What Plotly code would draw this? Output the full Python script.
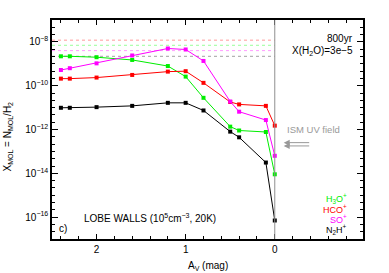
import plotly.graph_objects as go

# ---- data ----
av = [2.4, 2.3, 2.0, 1.6, 1.2, 1.0, 0.8, 0.5, 0.4, 0.1, 0.0]
h3o = [2.2e-9, 2.2e-9, 2.0e-9, 1.5e-9, 7.9e-10, 2.6e-10, 2.8e-11, 1.35e-12, 9e-13, 7.7e-13, 9e-15]
hco = [2.1e-10, 2.1e-10, 2.35e-10, 3.1e-10, 4.4e-10, 4.6e-10, 1.35e-10, 1.8e-11, 1.4e-11, 1.2e-11, 1.5e-12]
so = [5.2e-10, 6.3e-10, 1.05e-9, 2.4e-9, 5.0e-9, 4.5e-9, 1.35e-9, 1.9e-11, 6.5e-12, 2.7e-12, 6.3e-14]
n2h = [9.8e-12, 9.8e-12, 1.05e-11, 1.2e-11, 1.65e-11, 1.65e-11, 7.4e-12, 8e-13, 4.4e-13, 3.1e-14, 7e-17]

# reference (dotted) levels
ref_names = ["HCO+ ref", "H3O+ ref", "SO+ ref", "N2H+ ref"]
ref_levels = [1.2e-8, 7e-9, 4e-9, 2.2e-9]
ref_colors = ["#ff9a9a", "#9aff9a", "#ff9aff", "#a0a0a0"]

series_names = ["H3O+", "HCO+", "SO+", "N2H+"]
series_colors = ["#00ee00", "#ff0000", "#ff00ff", "#000000"]
series_vals = [h3o, hco, so, n2h]

x_range = [2.5, -0.99]
y_range = [-17, -7]
xtick_vals = [2, 1, 0]
ytick_exps = [-16, -14, -12, -10, -8]

FONT = "Liberation Sans, Arial, Helvetica, sans-serif"

fig = go.Figure()

for name, lvl, col in zip(ref_names, ref_levels, ref_colors):
    fig.add_trace(go.Scatter(x=[x_range[0], 0], y=[lvl, lvl], mode="lines",
                             line=dict(color=col, width=1, dash="dot"),
                             showlegend=False, hoverinfo="skip"))

# vertical line at Av = 0
fig.add_shape(type="line", xref="x", yref="paper", x0=0, x1=0, y0=0, y1=1,
              line=dict(color="#909090", width=1))

for name, vals, col in zip(series_names, series_vals, series_colors):
    fig.add_trace(go.Scatter(x=av, y=vals, mode="lines+markers", name=name,
                             line=dict(color=col, width=1),
                             marker=dict(symbol="square", size=4, color=col),
                             showlegend=False))

minor_y = []
for e in range(-17, -7):
    for k in range(3):
        minor_y.append(10 ** (e + k / 3))

fig.update_xaxes(range=x_range, tickmode="array", tickvals=xtick_vals,
                 ticktext=[str(v) for v in xtick_vals],
                 ticks="inside", ticklen=5, tickcolor="black", tickwidth=1,
                 showline=True, linecolor="black", linewidth=1.5, mirror="ticks",
                 showgrid=False, zeroline=False,
                 minor=dict(dtick=0.2, tick0=0, ticks="inside", ticklen=3, tickcolor="black"),
                 tickfont=dict(family=FONT, size=10, color="black"))

fig.update_yaxes(type="log", range=y_range, tickmode="array",
                 tickvals=[10 ** e for e in ytick_exps],
                 ticktext=["10<sup>\u2212%d</sup>" % (-e) for e in ytick_exps],
                 ticks="inside", ticklen=6, tickcolor="black", tickwidth=1,
                 showline=True, linecolor="black", linewidth=1.5, mirror="ticks",
                 showgrid=False, zeroline=False,
                 minor=dict(tickmode="array", tickvals=minor_y, ticks="inside",
                            ticklen=3, tickcolor="black"),
                 tickfont=dict(family=FONT, size=10, color="black"))

ann = []
ann.append(dict(xref="paper", yref="paper", x=0.975, y=0.915,
                text="800yr", showarrow=False, xanchor="right", yanchor="middle",
                font=dict(family=FONT, size=10, color="black")))
ann.append(dict(xref="paper", yref="paper", x=0.975, y=0.858,
                text="X(H<sub>2</sub>O)=3e\u22125", showarrow=False, xanchor="right",
                yanchor="middle", font=dict(family=FONT, size=10, color="black")))
ann.append(dict(xref="paper", yref="paper", x=0.932, y=0.5,
                text="ISM UV field", showarrow=False, xanchor="right", yanchor="middle",
                font=dict(family=FONT, size=9.5, color="#999999")))
for yy in [0.44, 0.425]:
    ann.append(dict(xref="paper", yref="paper", x=0.745, y=yy, ax=27, ay=0,
                    text="", showarrow=True, arrowhead=2, arrowsize=1.2, arrowwidth=1,
                    arrowcolor="#999999"))

leg_texts = ["H<sub>3</sub>O<sup>+</sup>", "HCO<sup>+</sup>", "SO<sup>+</sup>", "N<sub>2</sub>H<sup>+</sup>"]
leg_y = [0.187, 0.139, 0.092, 0.044]
for t, c, yy in zip(leg_texts, series_colors, leg_y):
    ann.append(dict(xref="paper", yref="paper", x=0.955, y=yy, text=t, showarrow=False,
                    xanchor="right", yanchor="middle",
                    font=dict(family=FONT, size=9, color=c)))

ann.append(dict(xref="paper", yref="paper", x=0.098, y=0.097,
                text="LOBE WALLS (10<sup>5</sup>cm<sup>\u22123</sup>, 20K)", showarrow=False,
                xanchor="left", yanchor="middle",
                font=dict(family=FONT, size=10, color="black")))
ann.append(dict(xref="paper", yref="paper", x=0.017, y=0.047, text="c)", showarrow=False,
                xanchor="left", yanchor="middle",
                font=dict(family=FONT, size=10, color="black")))
# axis titles
ann.append(dict(xref="paper", yref="paper", x=0.5, y=-0.085, text="A<sub>V</sub> (mag)",
                showarrow=False, xanchor="center", yanchor="top",
                font=dict(family=FONT, size=10, color="black")))
ann.append(dict(xref="paper", yref="paper", x=-0.14, y=0.47,
                text="X<sub>MOL</sub> = N<sub>MOL</sub>/H<sub>2</sub>", showarrow=False,
                textangle=-90, xanchor="center", yanchor="middle",
                font=dict(family=FONT, size=10, color="black")))

fig.update_layout(width=389, height=273,
                  margin=dict(l=52, r=26, t=20, b=34),
                  paper_bgcolor="white", plot_bgcolor="white",
                  annotations=ann, showlegend=False)

fig.write_html("out.html", config={"displayModeBar": False},
               post_script="document.body.style.margin='0';")
